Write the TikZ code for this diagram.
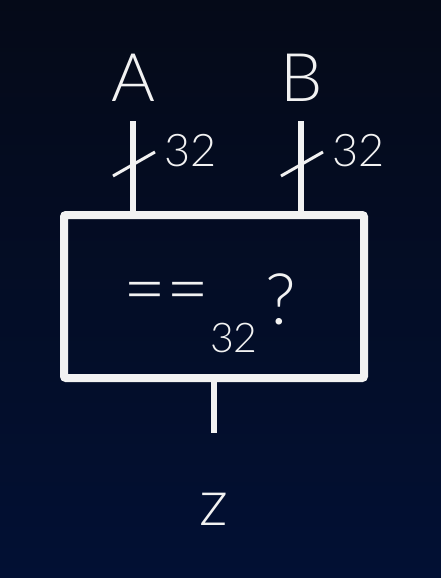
\documentclass[tikz,border=0pt]{standalone}
\usepackage{fontspec}
\IfFontExistsTF{Lato Light}{\setmainfont{Lato Light}}{%
  \IfFontExistsTF{Open Sans Light}{\setmainfont{Open Sans Light}}{%
    \setmainfont{DejaVu Sans}}}
\definecolor{bgtop}{HTML}{050A18}
\definecolor{bgbot}{HTML}{021034}
\definecolor{fg}{HTML}{F2F2F2}
\tikzset{
  wire/.style={draw=fg, line width=6pt},
  boxst/.style={draw=fg, line width=8pt, rounded corners=2pt},
  busslash/.style={draw=fg, line width=3pt},
  lbl/.style={text=fg, inner sep=0pt, font=\fontsize{67}{67}\selectfont},
  buslbl/.style={text=fg, inner sep=0pt, anchor=west, font=\fontsize{45}{45}\selectfont},
  txt/.style={text=fg, inner sep=0pt},
}
\begin{document}
\begin{tikzpicture}[x=1pt,y=-1pt]
\useasboundingbox (0,0) rectangle (441,578);
\shade[top color=bgtop, bottom color=bgbot] (0,0) rectangle (441,578);
% box
\draw[boxst] (64,215) rectangle (364,378);
\node[lbl] (A) at (133,78) {A};
\node[lbl] (B) at (302,78) {B};
\coordinate (a1) at (133,121);
\coordinate (a2) at (133,211);
\coordinate (b1) at (301,121);
\coordinate (b2) at (301,211);
\draw[wire] (a1) -- (a2);
\draw[wire] (b1) -- (b2);
\coordinate (sa1) at (113,176); \coordinate (sa2) at (155,152);
\coordinate (sb1) at (281,176); \coordinate (sb2) at (323,152);
\draw[busslash] (sa1) -- (sa2);
\draw[busslash] (sb1) -- (sb2);
\node[buslbl] (na) at (164,151) {32};
\node[buslbl] (nb) at (332,151) {32};
% content
\node[txt, anchor=center, font=\fontsize{74}{74}\selectfont] (eq) at (166.5,298.5) {==};
\node[txt, anchor=base west, font=\fontsize{41}{41}\selectfont] (sub) at (210,352) {32};
\node[txt, anchor=base west, font=\fontsize{71}{71}\selectfont] (q) at (265,324) {?};
% output
\coordinate (z1) at (214,382);
\coordinate (z2) at (214,433);
\draw[wire] (z1) -- (z2);
\node[txt, anchor=base, font=\fontsize{65}{65}\selectfont] (z) at (214,525) {z};
\end{tikzpicture}
\end{document}
